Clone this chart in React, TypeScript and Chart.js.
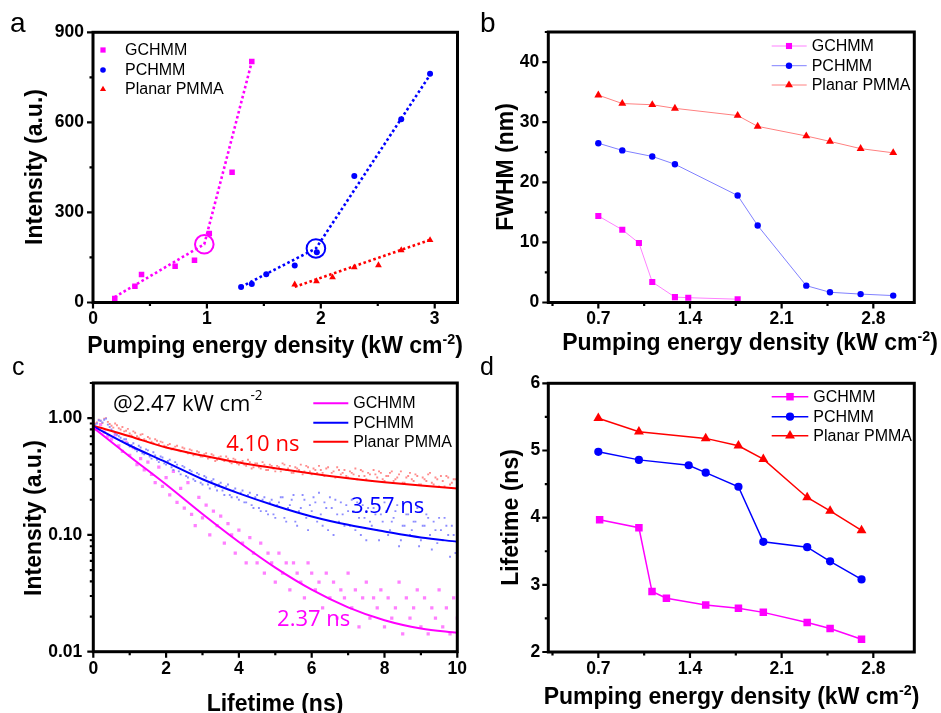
import React, { useEffect, useRef } from 'react';
import { Chart, registerables } from 'chart.js';

Chart.register(...registerables);

const W = 941;
const H = 713;
const YW = 70;
const XH = 40;
const SANS = "'Liberation Sans', Arial, Helvetica, sans-serif";
const ANNO = "'Open Sans', 'Liberation Sans', sans-serif";
const MAG = '#ff00ff';
const BLU = '#0000ff';
const RED = '#ff0000';

// ---------------- panel a : intensity vs pumping density ----------------
const aGcX = [0.191, 0.368, 0.426, 0.721, 0.891, 1.021, 1.221, 1.394];
const aGcY = [13, 54, 93, 121, 141, 230, 434, 803];
const aPcX = [1.3, 1.394, 1.521, 1.771, 1.965, 2.294, 2.706, 2.959];
const aPcY = [52, 62, 94, 123, 167, 421, 610, 762];
const aPmX = [1.771, 1.962, 2.103, 2.294, 2.506, 2.706, 2.959];
const aPmY = [60, 71, 84, 117, 124, 174, 208];
const aGcFitX = [0.19, 0.977, 1.397];
const aGcFitY = [18, 194, 806];
const aPcFitX = [1.3, 1.957, 2.962];
const aPcFitY = [52, 180, 760];
const aPmFitX = [1.771, 2.962];
const aPmFitY = [52, 209];
const aThreshX = [0.977, 1.957];
const aThreshY = [194, 180];
const aYTicks = [0, 300, 600, 900];

// ---------------- panel b : FWHM ----------------
const bGcX = [0.7, 0.883, 1.01, 1.112, 1.285, 1.387, 1.764];
const bGcY = [14.4, 12.1, 9.9, 3.4, 0.9, 0.8, 0.55];
const bPcX = [0.7, 0.883, 1.112, 1.285, 1.764, 1.917, 2.288, 2.469, 2.703, 2.952];
const bPcY = [26.5, 25.3, 24.3, 23.0, 17.8, 12.8, 2.8, 1.7, 1.4, 1.15];
const bPmX = [0.7, 0.883, 1.112, 1.285, 1.764, 1.917, 2.288, 2.469, 2.703, 2.952];
const bPmY = [34.5, 33.1, 32.9, 32.3, 31.1, 29.3, 27.7, 26.8, 25.6, 24.9];

// ---------------- panel c : decay curves ----------------
const decayT = [
  0, 0.1, 0.2, 0.3, 0.4, 0.5, 0.6, 0.7, 0.8, 0.9,
  1, 1.1, 1.2, 1.3, 1.4, 1.5, 1.6, 1.7, 1.8, 1.9,
  2, 2.1, 2.2, 2.3, 2.4, 2.5, 2.6, 2.7, 2.8, 2.9,
  3, 3.1, 3.2, 3.3, 3.4, 3.5, 3.6, 3.7, 3.8, 3.9,
  4, 4.1, 4.2, 4.3, 4.4, 4.5, 4.6, 4.7, 4.8, 4.9,
  5, 5.1, 5.2, 5.3, 5.4, 5.5, 5.6, 5.7, 5.8, 5.9,
  6, 6.1, 6.2, 6.3, 6.4, 6.5, 6.6, 6.7, 6.8, 6.9,
  7, 7.1, 7.2, 7.3, 7.4, 7.5, 7.6, 7.7, 7.8, 7.9,
  8, 8.1, 8.2, 8.3, 8.4, 8.5, 8.6, 8.7, 8.8, 8.9,
  9, 9.1, 9.2, 9.3, 9.4, 9.5, 9.6, 9.7, 9.8, 9.9,
  10,
];
const decayT2 = [
  0.05, 0.15, 0.25, 0.35, 0.45, 0.55, 0.65, 0.75, 0.85, 0.95,
  1.05, 1.15, 1.25, 1.35, 1.45, 1.55, 1.65, 1.75, 1.85, 1.95,
  2.05, 2.15, 2.25, 2.35, 2.45, 2.55, 2.65, 2.75, 2.85, 2.95,
  3.05, 3.15, 3.25, 3.35, 3.45, 3.55, 3.65, 3.75, 3.85, 3.95,
  4.05, 4.15, 4.25, 4.35, 4.45, 4.55, 4.65, 4.75, 4.85, 4.95,
  5.05, 5.15, 5.25, 5.35, 5.45, 5.55, 5.65, 5.75, 5.85, 5.95,
  6.05, 6.15, 6.25, 6.35, 6.45, 6.55, 6.65, 6.75, 6.85, 6.95,
  7.05, 7.15, 7.25, 7.35, 7.45, 7.55, 7.65, 7.75, 7.85, 7.95,
  8.05, 8.15, 8.25, 8.35, 8.45, 8.55, 8.65, 8.75, 8.85, 8.95,
  9.05, 9.15, 9.25, 9.35, 9.45, 9.55, 9.65, 9.75, 9.85, 9.95,
];
const decayPm = [
  0.88, 0.92, 0.95, 0.99, 0.93, 0.86, 0.9, 0.82, 0.84, 0.78,
  0.74, 0.77, 0.7, 0.72, 0.66, 0.69, 0.63, 0.66, 0.6, 0.62,
  0.57, 0.6, 0.55, 0.58, 0.52, 0.55, 0.5, 0.53, 0.49, 0.51,
  0.47, 0.5, 0.46, 0.48, 0.44, 0.47, 0.43, 0.45, 0.41, 0.44,
  0.4, 0.43, 0.39, 0.42, 0.38, 0.41, 0.37, 0.4, 0.36, 0.39,
  0.35, 0.38, 0.41, 0.36, 0.39, 0.34, 0.37, 0.4, 0.35, 0.38,
  0.33, 0.36, 0.39, 0.34, 0.37, 0.32, 0.35, 0.38, 0.33, 0.36,
  0.31, 0.34, 0.37, 0.32, 0.35, 0.3, 0.33, 0.36, 0.31, 0.34,
  0.29, 0.32, 0.35, 0.3, 0.33, 0.28, 0.31, 0.34, 0.29, 0.32,
  0.27, 0.3, 0.33, 0.28, 0.31, 0.26, 0.29, 0.32, 0.27, 0.3,
  0.33,
];
const decayPm2 = [
  0.9, 0.97, 0.91, 1.0, 0.89, 0.83, 0.87, 0.8, 0.77, 0.81,
  0.71, 0.75, 0.68, 0.73, 0.64, 0.67, 0.61, 0.64, 0.63, 0.58,
  0.59, 0.54, 0.57, 0.53, 0.56, 0.51, 0.54, 0.48, 0.52, 0.47,
  0.49, 0.45, 0.49, 0.43, 0.46, 0.44, 0.47, 0.42, 0.45, 0.41,
  0.42, 0.4, 0.44, 0.37, 0.41, 0.38, 0.42, 0.36, 0.4, 0.37,
  0.39, 0.35, 0.4, 0.37, 0.34, 0.38, 0.36, 0.33, 0.39, 0.35,
  0.37, 0.34, 0.36, 0.32, 0.38, 0.34, 0.31, 0.36, 0.34, 0.32,
  0.35, 0.33, 0.3, 0.36, 0.32, 0.34, 0.29, 0.33, 0.35, 0.3,
  0.32, 0.34, 0.29, 0.31, 0.35, 0.28, 0.32, 0.3, 0.33, 0.27,
  0.31, 0.29, 0.34, 0.27, 0.3, 0.32, 0.26, 0.31, 0.28, 0.3,
];
const decayPc = [
  0.86, 0.9, 0.95, 0.97, 0.88, 0.8, 0.74, 0.7, 0.64, 0.66,
  0.57, 0.61, 0.52, 0.56, 0.49, 0.53, 0.45, 0.48, 0.42, 0.46,
  0.4, 0.44, 0.36, 0.4, 0.33, 0.38, 0.31, 0.35, 0.29, 0.33,
  0.27, 0.31, 0.25, 0.3, 0.24, 0.28, 0.22, 0.27, 0.21, 0.25,
  0.2, 0.24, 0.19, 0.23, 0.17, 0.22, 0.16, 0.21, 0.15, 0.2,
  0.14, 0.19, 0.21, 0.13, 0.18, 0.22, 0.12, 0.17, 0.2, 0.11,
  0.16, 0.19, 0.23, 0.12, 0.17, 0.21, 0.1, 0.15, 0.19, 0.12,
  0.16, 0.2, 0.11, 0.14, 0.18, 0.09, 0.13, 0.17, 0.11, 0.15,
  0.19, 0.1, 0.13, 0.16, 0.08, 0.12, 0.15, 0.1, 0.13, 0.17,
  0.09, 0.12, 0.14, 0.075, 0.11, 0.14, 0.09, 0.12, 0.065, 0.1,
  0.13,
];
const decayPc2 = [
  0.88, 0.96, 0.92, 0.99, 0.84, 0.77, 0.72, 0.68, 0.66, 0.61,
  0.59, 0.54, 0.58, 0.5, 0.54, 0.47, 0.51, 0.44, 0.47, 0.41,
  0.43, 0.38, 0.42, 0.35, 0.39, 0.32, 0.36, 0.3, 0.34, 0.28,
  0.32, 0.27, 0.29, 0.26, 0.27, 0.24, 0.26, 0.22, 0.24, 0.21,
  0.23, 0.19, 0.22, 0.18, 0.21, 0.17, 0.2, 0.16, 0.19, 0.15,
  0.18, 0.21, 0.14, 0.17, 0.2, 0.13, 0.16, 0.22, 0.14, 0.18,
  0.21, 0.13, 0.15, 0.19, 0.11, 0.17, 0.2, 0.13, 0.15, 0.18,
  0.12, 0.16, 0.19, 0.1, 0.14, 0.17, 0.12, 0.15, 0.09, 0.13,
  0.16, 0.11, 0.14, 0.18, 0.09, 0.12, 0.15, 0.11, 0.13, 0.08,
  0.12, 0.15, 0.1, 0.13, 0.085, 0.11, 0.14, 0.1, 0.12, 0.07,
];
const decayGc = [
  0.84, 0.8, 0.88, 0.76, 0.7, 0.66, 0.72, 0.58, 0.52, 0.62,
  0.48, 0.56, 0.4, 0.45, 0.36, 0.42, 0.33, 0.28, 0.38, 0.26,
  0.31, 0.22, 0.35, 0.19, 0.25, 0.17, 0.28, 0.15, 0.12, 0.21,
  0.14, 0.18, 0.1, 0.16, 0.12, 0.145, 0.085, 0.125, 0.1, 0.07,
  0.11, 0.085, 0.0575, 0.095, 0.07, 0.0575, 0.085, 0.047, 0.07, 0.0575,
  0.0395, 0.07, 0.047, 0.0575, 0.0338, 0.0575, 0.047, 0.0395, 0.0289, 0.0575,
  0.047, 0.0338, 0.0395, 0.0237, 0.047, 0.0289, 0.0395, 0.0194, 0.0338, 0.0289,
  0.047, 0.0237, 0.0338, 0.0163, 0.0289, 0.0395, 0.0194, 0.0289, 0.0237, 0.0338,
  0.0163, 0.0289, 0.0194, 0.0237, 0.0395, 0.0142, 0.0289, 0.0194, 0.0237, 0.0338,
  0.0163, 0.0289, 0.0142, 0.0237, 0.0194, 0.0338, 0.0163, 0.0237, 0.0142, 0.0289,
  0.0194,
];
const fitT = [0, 1, 2, 3, 4, 5, 6, 7, 8, 9, 10];
const fitPm = [0.86, 0.7, 0.56, 0.479, 0.417, 0.373, 0.336, 0.306, 0.283, 0.265, 0.25];
const fitPc = [0.85, 0.583, 0.42, 0.3, 0.227, 0.178, 0.144, 0.122, 0.107, 0.095, 0.0875];
const fitGc = [0.83, 0.47, 0.27, 0.151, 0.087, 0.0525, 0.034, 0.024, 0.0186, 0.0158, 0.0145];
const cYTicks = [0.01, 0.1, 1];

// ---------------- panel d : lifetime ----------------
const dGcX = [0.71, 1.01, 1.11, 1.22, 1.52, 1.77, 1.96, 2.295, 2.47, 2.71];
const dGcY = [3.97, 3.85, 2.9, 2.8, 2.7, 2.65, 2.59, 2.44, 2.35, 2.19];
const dPcX = [0.7, 1.01, 1.39, 1.52, 1.77, 1.96, 2.295, 2.47, 2.71];
const dPcY = [4.98, 4.86, 4.78, 4.67, 4.46, 3.64, 3.56, 3.35, 3.08];
const dPmX = [0.7, 1.01, 1.52, 1.77, 1.96, 2.295, 2.47, 2.71];
const dPmY = [5.48, 5.28, 5.18, 5.07, 4.87, 4.3, 4.1, 3.81];

const seriesNames = ['GCHMM', 'PCHMM', 'Planar PMMA'];

// ---------------- helpers ----------------
const pts = (xs: number[], ys: number[]) => xs.map((x, i) => ({ x, y: ys[i] }));

type Part = { t: string; sup?: boolean };

function drawRich(ctx: CanvasRenderingContext2D, parts: Part[], x: number, y: number, size: number, weight: string, family: string, align: 'left' | 'center') {
  const supSize = size * 0.62;
  const widths = parts.map((p) => {
    ctx.font = `${weight} ${p.sup ? supSize : size}px ${family}`;
    return ctx.measureText(p.t).width;
  });
  const total = widths.reduce((a, b) => a + b, 0);
  let cx = align === 'center' ? x - total / 2 : x;
  ctx.textAlign = 'left';
  parts.forEach((p, i) => {
    ctx.font = `${weight} ${p.sup ? supSize : size}px ${family}`;
    ctx.fillText(p.t, cx, p.sup ? y - size * 0.4 : y);
    cx += widths[i];
  });
}

function drawMarker(ctx: CanvasRenderingContext2D, style: string, x: number, y: number, r: number) {
  ctx.beginPath();
  if (style === 'rect') {
    const s = r * Math.SQRT1_2;
    ctx.rect(x - s, y - s, 2 * s, 2 * s);
  } else if (style === 'circle') {
    ctx.arc(x, y, r, 0, Math.PI * 2);
  } else {
    ctx.moveTo(x, y - r);
    ctx.lineTo(x + 0.866 * r, y + 0.5 * r);
    ctx.lineTo(x - 0.866 * r, y + 0.5 * r);
    ctx.closePath();
  }
  ctx.fill();
}

interface LegendSpec {
  colors: string[];
  lineColors?: string[];
  styles?: string[];
  radii?: number[];
  lineX0?: number;
  lineX1?: number;
  lineW?: number;
  markX?: number;
  textX: number;
  ys: number[];
}

interface Decor {
  letter: { t: string; x: number; y: number; size: number };
  xTitle: { parts: Part[]; x: number; y: number };
  yTitle: { t: string; x: number; y: number };
  legend: LegendSpec;
  logY?: boolean;
  notes?: { parts: Part[]; x: number; y: number; color: string; size: number }[];
}

function decorPlugin(d: Decor) {
  return {
    id: 'panelDecor',
    afterDraw(chart: any) {
      const ctx: CanvasRenderingContext2D = chart.ctx;
      const { left, right, top, bottom } = chart.chartArea;
      const xs = chart.scales.x;
      const ys = chart.scales.y;
      ctx.save();
      ctx.strokeStyle = '#000';
      ctx.fillStyle = '#000';
      ctx.lineCap = 'butt';

      // x ticks (outward, bottom)
      const xMaj = xs.ticks.map((t: any) => t.value);
      const xStep = xMaj[1] - xMaj[0];
      const xMin: number[] = [];
      for (let v = xMaj[0] - xStep / 2; v <= xs.max + 1e-9; v += xStep) {
        if (v >= xs.min - 1e-9) xMin.push(v);
      }
      ctx.lineWidth = 2.2;
      ctx.beginPath();
      xMaj.forEach((v: number) => {
        const p = xs.getPixelForValue(v);
        ctx.moveTo(p, bottom);
        ctx.lineTo(p, bottom + 6);
      });
      xMin.forEach((v) => {
        const p = xs.getPixelForValue(v);
        ctx.moveTo(p, bottom);
        ctx.lineTo(p, bottom + 3.5);
      });
      // y ticks (outward, left)
      const yMaj = ys.ticks.map((t: any) => t.value);
      const yMin: number[] = [];
      if (d.logY) {
        for (let e = -3; e <= 1; e++) {
          for (let k = 2; k <= 9; k++) {
            const v = k * Math.pow(10, e);
            if (v >= ys.min && v <= ys.max) yMin.push(v);
          }
        }
      } else {
        const yStep = yMaj[1] - yMaj[0];
        for (let v = yMaj[0] - yStep / 2; v <= ys.max + 1e-9; v += yStep) {
          if (v >= ys.min - 1e-9) yMin.push(v);
        }
      }
      yMaj.forEach((v: number) => {
        const p = ys.getPixelForValue(v);
        ctx.moveTo(left, p);
        ctx.lineTo(left - 6, p);
      });
      yMin.forEach((v) => {
        const p = ys.getPixelForValue(v);
        ctx.moveTo(left, p);
        ctx.lineTo(left - 3.5, p);
      });
      ctx.stroke();

      // frame
      ctx.lineWidth = 3;
      ctx.strokeRect(left, top, right - left, bottom - top);

      // axis titles
      ctx.fillStyle = '#000';
      ctx.textBaseline = 'alphabetic';
      drawRich(ctx, d.xTitle.parts, d.xTitle.x, d.xTitle.y, 23, 'bold', SANS, 'center');
      ctx.save();
      ctx.translate(d.yTitle.x, d.yTitle.y);
      ctx.rotate(-Math.PI / 2);
      ctx.font = `bold 23px ${SANS}`;
      ctx.textAlign = 'center';
      ctx.fillText(d.yTitle.t, 0, 0);
      ctx.restore();

      // panel letter
      ctx.font = `${d.letter.size}px ${SANS}`;
      ctx.textAlign = 'left';
      ctx.fillText(d.letter.t, d.letter.x, d.letter.y);

      // legend
      const L = d.legend;
      ctx.textBaseline = 'middle';
      seriesNames.forEach((name, i) => {
        const y = L.ys[i];
        if (L.lineX0 !== undefined && L.lineX1 !== undefined) {
          ctx.strokeStyle = (L.lineColors || L.colors)[i];
          ctx.lineWidth = L.lineW || 1;
          ctx.beginPath();
          ctx.moveTo(L.lineX0, y);
          ctx.lineTo(L.lineX1, y);
          ctx.stroke();
        }
        if (L.styles && L.radii && L.markX !== undefined) {
          ctx.fillStyle = L.colors[i];
          drawMarker(ctx, L.styles[i], L.markX, y, L.radii[i]);
        }
        ctx.fillStyle = '#000';
        ctx.font = `16px ${SANS}`;
        ctx.textAlign = 'left';
        ctx.fillText(name, L.textX, y + 0.5);
      });

      // annotations in data coordinates
      (d.notes || []).forEach((n) => {
        ctx.fillStyle = n.color;
        ctx.textBaseline = 'middle';
        drawRich(ctx, n.parts, xs.getPixelForValue(n.x), ys.getPixelForValue(n.y), n.size, 'normal', ANNO, 'left');
      });
      ctx.restore();
    },
  };
}

const tickFont = { family: SANS, size: 17.5, weight: 'bold' as const };

function linAxis(axis: 'x' | 'y', min: number, max: number, step: number, pad: number, digits: number) {
  return {
    type: 'linear',
    min,
    max,
    ticks: {
      stepSize: step,
      includeBounds: false,
      autoSkip: false,
      maxRotation: 0,
      padding: pad,
      color: '#000',
      font: tickFont,
      callback: (v: any) => Number(v).toFixed(digits),
    },
    grid: { display: false, drawTicks: false },
    border: { display: false },
    afterFit: (s: any) => {
      if (axis === 'x') s.height = XH;
      else s.width = YW;
    },
  };
}

function layoutFor(l: number, t: number, r: number, b: number) {
  return { padding: { left: l - YW, top: t, right: W - r, bottom: H - b - XH } };
}

function baseOptions(l: number, t: number, r: number, b: number, scales: any) {
  return {
    responsive: false,
    animation: false,
    events: [],
    devicePixelRatio: 1,
    layout: layoutFor(l, t, r, b),
    plugins: { legend: { display: false }, tooltip: { enabled: false }, title: { display: false } },
    scales,
  };
}

const pointSet = (data: any[], color: string, style: string, r: number, order = 1) => ({
  data,
  showLine: false,
  pointStyle: style,
  pointRadius: r,
  pointBackgroundColor: color,
  pointBorderWidth: 0,
  borderColor: color,
  order,
});

const lineSet = (data: any[], color: string, width: number, dash: number[] = [], extra: any = {}) => ({
  data,
  showLine: true,
  borderColor: color,
  borderWidth: width,
  borderDash: dash,
  pointRadius: 0,
  fill: false,
  order: 2,
  ...extra,
});

const FWHM_X_MIN = 0.318;
const FWHM_X_MAX = 3.113;

function makeA() {
  const decor: Decor = {
    letter: { t: 'a', x: 10, y: 31.7, size: 28 },
    xTitle: { parts: [{ t: 'Pumping energy density (kW cm' }, { t: '-2', sup: true }, { t: ')' }], x: 275, y: 353 },
    yTitle: { t: 'Intensity (a.u.)', x: 42, y: 167 },
    legend: {
      colors: [MAG, BLU, RED],
      styles: ['rect', 'circle', 'triangle'],
      radii: [3.7, 2.8, 3.6],
      markX: 103,
      textX: 125,
      ys: [50, 70, 89.3],
    },
  };
  const yAx: any = linAxis('y', 0, 900, 300, 9, 0);
  yAx.afterBuildTicks = (s: any) => {
    s.ticks = aYTicks.map((v) => ({ value: v }));
  };
  return {
    type: 'line',
    data: {
      datasets: [
        lineSet(pts(aGcFitX, aGcFitY), MAG, 2.6, [2.6, 2.6]),
        lineSet(pts(aPcFitX, aPcFitY), BLU, 2.6, [2.6, 2.6]),
        lineSet(pts(aPmFitX, aPmFitY), RED, 2.6, [2.6, 2.6]),
        pointSet(pts(aGcX, aGcY), MAG, 'rect', 3.9),
        pointSet(pts(aPcX, aPcY), BLU, 'circle', 3),
        pointSet(pts(aPmX, aPmY), RED, 'triangle', 3.9),
        {
          data: pts(aThreshX, aThreshY),
          showLine: false,
          pointStyle: 'circle',
          pointRadius: 9.3,
          pointBackgroundColor: 'rgba(0,0,0,0)',
          pointBorderColor: [MAG, BLU],
          pointBorderWidth: 2,
          order: 0,
        },
      ],
    },
    options: baseOptions(93, 32.3, 457.5, 302.5, {
      x: linAxis('x', 0, 3.2, 1, 6, 0),
      y: yAx,
    }),
    plugins: [decorPlugin(decor)],
  };
}

function makeB() {
  const decor: Decor = {
    letter: { t: 'b', x: 480, y: 31.7, size: 28 },
    xTitle: { parts: [{ t: 'Pumping energy density (kW cm' }, { t: '-2', sup: true }, { t: ')' }], x: 750, y: 350 },
    yTitle: { t: 'FWHM (nm)', x: 512.5, y: 167 },
    legend: {
      colors: [MAG, BLU, RED],
      lineColors: ['#ff80ff', '#8080ff', '#ff8080'],
      styles: ['rect', 'circle', 'triangle'],
      radii: [4.3, 3.2, 4.6],
      lineX0: 771.7,
      lineX1: 806.7,
      lineW: 1,
      markX: 789,
      textX: 811.7,
      ys: [46, 65.7, 85],
    },
  };
  return {
    type: 'line',
    data: {
      datasets: [
        lineSet(pts(bGcX, bGcY), '#ff80ff', 1),
        lineSet(pts(bPcX, bPcY), '#8080ff', 1),
        lineSet(pts(bPmX, bPmY), '#ff8080', 1),
        pointSet(pts(bGcX, bGcY), MAG, 'rect', 4.3),
        pointSet(pts(bPcX, bPcY), BLU, 'circle', 3.2),
        pointSet(pts(bPmX, bPmY), RED, 'triangle', 4.6),
      ],
    },
    options: baseOptions(548.3, 32, 914.3, 302.5, {
      x: linAxis('x', FWHM_X_MIN, FWHM_X_MAX, 0.7, 6, 1),
      y: linAxis('y', 0, 45, 10, 9, 0),
    }),
    plugins: [decorPlugin(decor)],
  };
}

function makeC() {
  const decor: Decor = {
    letter: { t: 'c', x: 12, y: 375, size: 25 },
    xTitle: { parts: [{ t: 'Lifetime (ns)' }], x: 275, y: 711 },
    yTitle: { t: 'Intensity (a.u.)', x: 41, y: 518 },
    logY: true,
    legend: {
      colors: [MAG, BLU, RED],
      lineX0: 313.3,
      lineX1: 348.3,
      lineW: 2,
      textX: 353.3,
      ys: [403.3, 422.7, 441.7],
    },
    notes: [
      { parts: [{ t: '@2.47 kW cm' }, { t: '-2', sup: true }], x: 0.54, y: 1.3, color: '#000', size: 22 },
      { parts: [{ t: '4.10 ns' }], x: 3.65, y: 0.59, color: RED, size: 22 },
      { parts: [{ t: '3.57 ns' }], x: 7.08, y: 0.175, color: BLU, size: 22 },
      { parts: [{ t: '2.37 ns' }], x: 5.05, y: 0.0187, color: MAG, size: 22 },
    ],
  };
  return {
    type: 'line',
    data: {
      datasets: [
        lineSet(pts(fitT, fitGc), MAG, 2, [], { cubicInterpolationMode: 'monotone', order: 0 }),
        lineSet(pts(fitT, fitPc), BLU, 2, [], { cubicInterpolationMode: 'monotone', order: 0 }),
        lineSet(pts(fitT, fitPm), RED, 2, [], { cubicInterpolationMode: 'monotone', order: 0 }),
        pointSet(pts(decayT, decayGc), '#ff80ff', 'rect', 2.3, 3),
        pointSet(pts(decayT, decayPc), '#8c8cff', 'rect', 1.35, 2),
        pointSet(pts(decayT2, decayPc2), '#8c8cff', 'rect', 1.35, 2),
        pointSet(pts(decayT, decayPm), '#ff8c8c', 'rect', 1.35, 2),
        pointSet(pts(decayT2, decayPm2), '#ff8c8c', 'rect', 1.35, 2),
      ],
    },
    options: baseOptions(93.3, 383, 457.3, 651.7, {
      x: linAxis('x', 0, 10, 2, 7, 0),
      y: {
        type: 'logarithmic',
        min: 0.01,
        max: 2,
        afterBuildTicks: (s: any) => {
          s.ticks = cYTicks.map((v) => ({ value: v }));
        },
        ticks: {
          autoSkip: false,
          padding: 11,
          color: '#000',
          font: tickFont,
          callback: (v: any) => Number(v).toFixed(2),
        },
        grid: { display: false, drawTicks: false },
        border: { display: false },
        afterFit: (s: any) => {
          s.width = YW;
        },
      },
    }),
    plugins: [decorPlugin(decor)],
  };
}

function makeD() {
  const decor: Decor = {
    letter: { t: 'd', x: 480, y: 375, size: 25 },
    xTitle: { parts: [{ t: 'Pumping energy density (kW cm' }, { t: '-2', sup: true }, { t: ')' }], x: 731.5, y: 704 },
    yTitle: { t: 'Lifetime (ns)', x: 518, y: 517.5 },
    legend: {
      colors: [MAG, BLU, RED],
      styles: ['rect', 'circle', 'triangle'],
      radii: [5.3, 4.1, 5.7],
      lineX0: 771.7,
      lineX1: 808.3,
      lineW: 1.5,
      markX: 790,
      textX: 813.3,
      ys: [396.7, 416.7, 435.7],
    },
  };
  return {
    type: 'line',
    data: {
      datasets: [
        lineSet(pts(dGcX, dGcY), MAG, 1.5),
        lineSet(pts(dPcX, dPcY), BLU, 1.5),
        lineSet(pts(dPmX, dPmY), RED, 1.5),
        pointSet(pts(dGcX, dGcY), MAG, 'rect', 5.3),
        pointSet(pts(dPcX, dPcY), BLU, 'circle', 4.1),
        pointSet(pts(dPmX, dPmY), RED, 'triangle', 5.7),
      ],
    },
    options: baseOptions(548.3, 383.3, 914.3, 652, {
      x: linAxis('x', FWHM_X_MIN, FWHM_X_MAX, 0.7, 7, 1),
      y: linAxis('y', 2, 6, 1, 8, 0),
    }),
    plugins: [decorPlugin(decor)],
  };
}

function Panel({ make }: { make: () => any }) {
  const ref = useRef<HTMLCanvasElement>(null);
  useEffect(() => {
    if (!ref.current) return;
    const chart = new Chart(ref.current, make());
    return () => chart.destroy();
  }, [make]);
  return (
    <canvas
      ref={ref}
      width={W}
      height={H}
      style={{ position: 'absolute', left: 0, top: 0, width: W, height: H }}
    />
  );
}

export default function App() {
  return (
    <div style={{ position: 'fixed', left: 0, top: 0, width: W, height: H, background: '#ffffff', overflow: 'hidden' }}>
      <Panel make={makeA} />
      <Panel make={makeB} />
      <Panel make={makeC} />
      <Panel make={makeD} />
    </div>
  );
}
